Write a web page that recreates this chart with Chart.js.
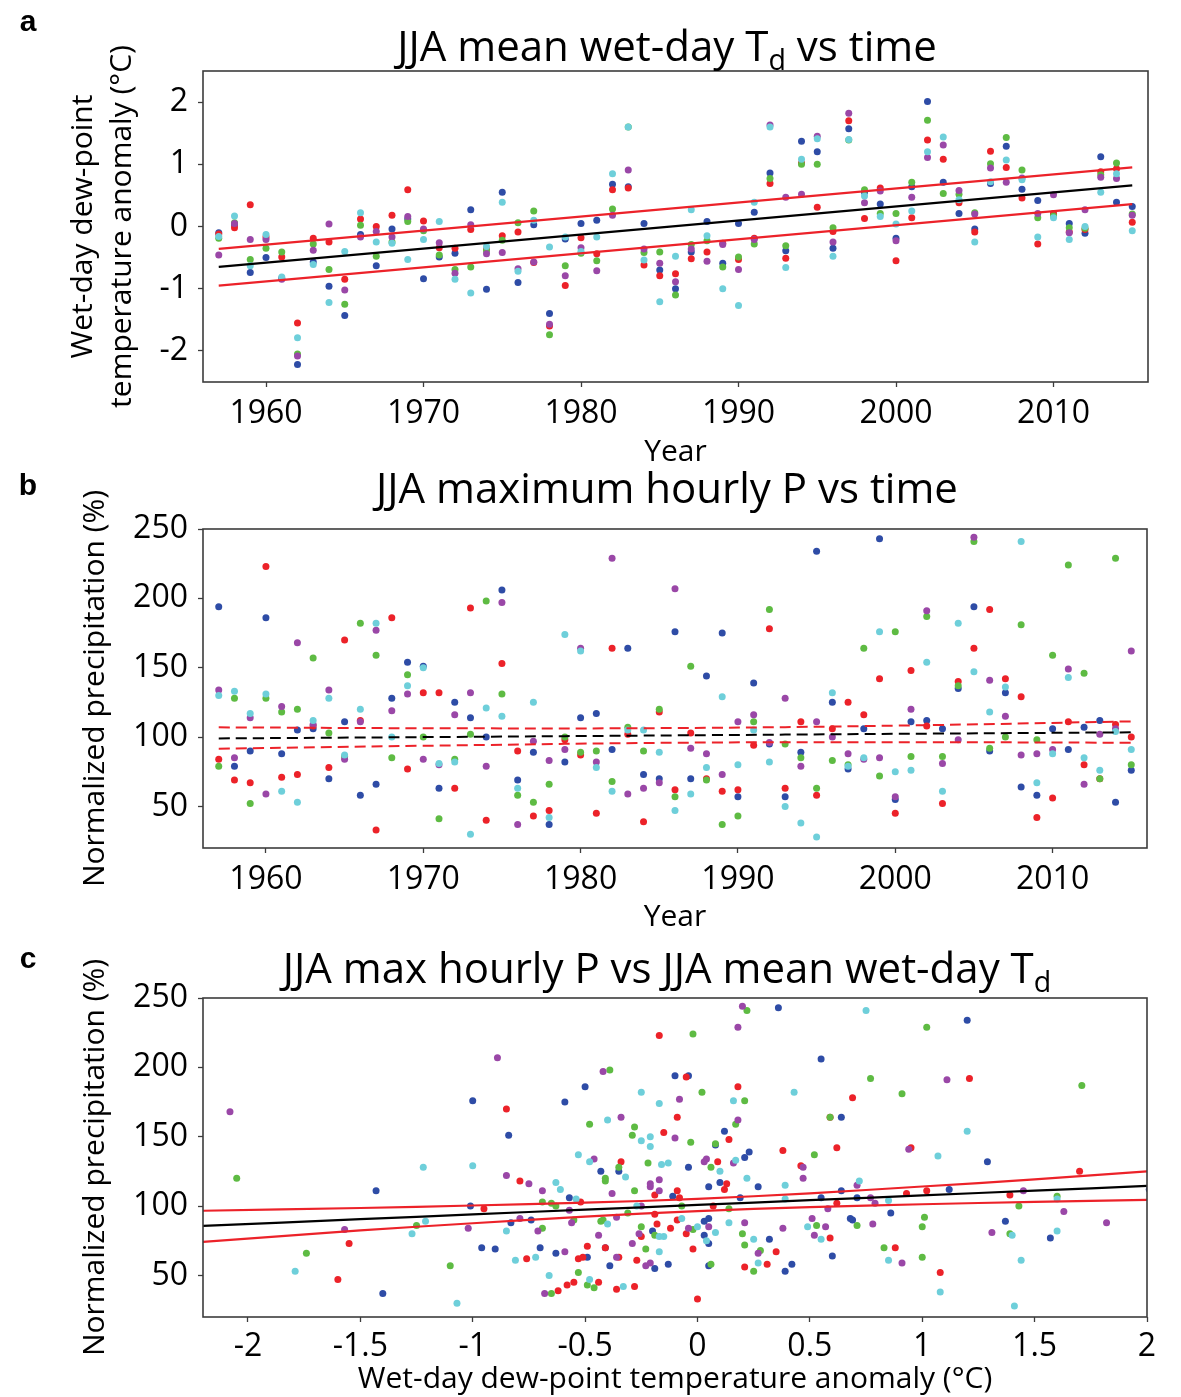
<!DOCTYPE html>
<html><head><meta charset="utf-8">
<script src="https://cdn.jsdelivr.net/npm/chart.js@4"></script>
<style>
body{margin:0;background:#fff;width:1181px;height:1397px;position:relative;overflow:hidden;font-family:'Open Sans',sans-serif;}
canvas{position:absolute;left:0;}
.ttl{position:absolute;left:667px;transform:translate(-50%,-50%);font-size:42px;white-space:nowrap;color:#000;line-height:1;}
.ttl sub{font-size:0.68em;vertical-align:-0.32em;line-height:0;}
.lt{position:absolute;font-family:'Liberation Sans',Arial,sans-serif;font-weight:bold;font-size:30px;transform:translate(-50%,-50%);line-height:1;}
</style></head>
<body>
<canvas id="ca" width="1181" height="480" style="top:0px"></canvas>
<canvas id="cb" width="1181" height="465" style="top:480px"></canvas>
<canvas id="cc" width="1181" height="452" style="top:945px"></canvas>
<div class="lt" style="left:28px;top:21px">a</div>
<div class="lt" style="left:28px;top:485px">b</div>
<div class="lt" style="left:28px;top:958px">c</div>
<div class="ttl" style="top:45px">JJA mean wet-day T<sub>d</sub> vs time</div>
<div class="ttl" style="top:487px">JJA maximum hourly P vs time</div>
<div class="ttl" style="top:967px">JJA max hourly P vs JJA mean wet-day T<sub>d</sub></div>
<script>
// ---------- data ----------
const years = [1957,1958,1959,1960,1961,1962,1963,1964,1965,1966,1967,1968,1969,1970,1971,1972,1973,1974,1975,1976,1977,1978,1979,1980,1981,1982,1983,1984,1985,1986,1987,1988,1989,1990,1991,1992,1993,1994,1995,1996,1997,1998,1999,2000,2001,2002,2003,2004,2005,2006,2007,2008,2009,2010,2011,2012,2013,2014,2015];

// wet-day dew-point anomaly (°C), panel a
const tdBlue   = [-0.10,0.03,-0.74,-0.50,-0.83,-2.22,-0.57,-0.96,-1.43,-0.13,-0.63,-0.04,0.12,-0.84,-0.49,-0.43,0.27,-1.01,0.55,-0.90,0.03,-1.40,-0.20,0.05,0.10,0.68,0.64,0.05,-0.70,-1.00,-0.41,0.08,-0.59,0.05,0.23,0.86,-0.39,1.37,1.20,-0.35,1.57,0.55,0.36,-0.19,0.64,2.01,0.71,0.21,-0.04,0.69,1.29,0.60,0.42,0.19,0.05,-0.11,1.12,0.39,0.32];
const tdRed    = [-0.12,-0.02,0.35,-0.17,-0.49,-1.55,-0.19,-0.25,-0.85,0.12,0.00,0.18,0.59,0.09,-0.34,-0.35,-0.05,-0.36,-0.15,-0.09,-0.58,-1.60,-0.95,-0.18,-0.44,0.59,0.62,-0.62,-0.79,-0.76,-0.52,-0.41,-0.27,-0.53,-0.19,0.69,-0.51,1.02,0.31,-0.08,1.70,0.13,0.62,-0.55,0.14,1.39,1.08,0.38,-0.09,1.21,0.95,0.46,-0.28,0.21,-0.09,-0.05,0.88,0.93,0.07];
const tdGreen  = [-0.19,0.06,-0.53,-0.35,-0.41,-2.05,-0.28,-0.69,-1.25,0.02,-0.48,-0.25,0.08,-0.07,-0.46,-0.69,-0.65,-0.39,-0.22,0.06,0.25,-1.74,-0.63,-0.43,-0.55,0.28,1.60,-0.42,-0.41,-1.10,-0.29,-0.23,-0.65,-0.49,-0.28,0.77,-0.31,1.00,1.00,-0.02,1.39,0.59,0.21,0.21,0.71,1.71,0.53,0.52,0.22,1.01,1.43,0.91,0.14,0.17,-0.02,-0.03,0.83,1.02,0.20];
const tdPurple = [-0.46,0.05,-0.21,-0.21,-0.85,-2.08,-0.38,0.04,-1.02,-0.17,-0.08,-0.17,0.16,-0.04,-0.26,-0.75,0.03,-0.44,-0.42,-0.68,-0.57,-1.57,-0.79,-0.34,-0.71,0.18,0.91,-0.36,-0.59,-0.89,-0.36,-0.56,-0.29,-0.69,-0.21,1.63,0.47,0.52,1.45,-0.25,1.82,0.38,0.57,-0.23,0.47,1.11,1.31,0.58,0.20,0.94,0.71,0.78,0.21,0.51,-0.10,0.27,0.79,0.77,0.18];
const tdCyan   = [-0.16,0.17,-0.63,-0.13,-0.81,-1.79,-0.61,-1.22,-0.40,0.22,-0.25,-0.27,-0.53,-0.21,0.08,-0.85,-1.07,-0.32,0.39,-0.72,0.10,-0.33,-0.17,-0.40,-0.17,0.85,1.60,-0.54,-1.21,-0.48,0.27,-0.15,-1.00,-1.27,0.39,1.60,-0.66,1.08,1.41,-0.48,1.40,0.49,0.16,0.04,0.25,1.20,1.44,0.43,-0.25,0.72,1.07,0.75,-0.17,0.14,-0.21,0.00,0.55,0.85,-0.07];

// normalized max hourly precipitation (%), panel b
const pBlue   = [194,79,90,186,88,105,106,70,111,58,66,128,154,151,63,125,114,100,206,69,89,37,82,114,117,91,164,73,70,176,70,144,175,57,139,95,57,89,234,125,77,106,243,55,111,112,106,135,194,90,132,64,58,106,91,107,112,53,76];
const pRed    = [84,69,67,223,71,73,108,78,170,112,33,186,77,132,132,63,193,40,153,90,43,47,98,87,45,164,102,39,118,62,103,70,61,62,94,178,63,111,58,106,125,116,142,45,148,108,52,140,164,192,142,129,42,56,111,80,70,109,100];
const pGreen  = [79,128,52,128,118,120,157,103,86,182,159,85,145,100,41,84,102,198,131,58,53,66,100,89,90,68,107,90,120,57,151,69,37,43,111,192,95,85,63,83,80,164,72,176,86,187,86,137,241,92,100,181,98,159,224,146,70,229,80];
const pPurple = [134,85,114,59,122,168,109,134,84,111,177,119,131,84,80,116,132,79,197,37,97,83,91,164,82,229,59,63,67,207,92,88,73,111,116,96,128,79,111,100,88,84,85,57,120,191,81,98,244,141,115,87,88,91,149,66,102,106,162];
const pCyan   = [130,133,117,131,61,53,112,128,87,120,182,100,137,150,81,82,30,121,115,63,125,42,174,162,78,61,105,105,89,47,59,78,129,80,105,82,50,38,28,132,79,85,176,75,76,154,61,182,147,118,136,241,67,88,143,85,76,104,91];

// trend lines and confidence bands
const trendYears = [1957, 2015];
const trendA = [-0.65, 0.66], upperA = [-0.36, 0.95], lowerA = [-0.95, 0.36];
const bandYearsB = [1957, 1972, 1986, 2000, 2015];
const trendB = [99.0, 100.1, 101.2, 102.3, 103.4];
const upperB = [107.0, 106.3, 106.5, 108.2, 111.3];
const lowerB = [91.6, 94.0, 95.9, 96.3, 95.9];
const bandXC = [-2.2, -1.5, -1.0, -0.5, 0, 0.5, 1.0, 1.5, 2.0];
const trendC = [85.7, 90.5, 94.0, 97.4, 100.8, 104.2, 107.7, 111.1, 114.5];
const upperC = [96.6, 98.6, 100.4, 102.4, 105.2, 109.2, 114.1, 119.2, 125.0];
const lowerC = [74.2, 82.4, 87.6, 92.4, 96.4, 99.2, 101.3, 103.0, 104.5];

// tick labels
const yearTicks = [1960, 1970, 1980, 1990, 2000, 2010];
const tdTicks = [-2, -1, 0, 1, 2];
const pTicks = [50, 100, 150, 200, 250];
const tdTicksC = [-2, -1.5, -1, -0.5, 0, 0.5, 1, 1.5, 2];

// ---------- styling ----------
const COL = {blue:'#2E4CA6', red:'#EC2229', green:'#5EBB43', purple:'#9A47A7', cyan:'#6ECFDA'};
const FONT = "'Open Sans', sans-serif";
const series = [
  ['cyan', tdCyan, pCyan], ['purple', tdPurple, pPurple], ['green', tdGreen, pGreen],
  ['red', tdRed, pRed], ['blue', tdBlue, pBlue]
];

const boxPlugin = {id:'box', afterDraw(chart){
  const {ctx, chartArea:a} = chart; ctx.save(); ctx.strokeStyle='#3c3c3c'; ctx.lineWidth=1.6;
  ctx.strokeRect(a.left, a.top, a.right-a.left, a.bottom-a.top); ctx.restore(); }};

function pts(xs, ys){ return xs.map((x,i)=>({x:x, y:ys[i]})); }
function lineDs(xs, ys, color, dash, w){
  return {type:'scatter', data:pts(xs, ys), showLine:true, borderColor:color, backgroundColor:color,
    borderWidth:w, borderDash:dash, pointRadius:0, tension:0.4, fill:false, clip:0};
}
function scatterDs(name, xs, ys){
  return {type:'scatter', data:pts(xs, ys), backgroundColor:COL[name], borderWidth:0, pointRadius:3.5,
    pointHoverRadius:3.5, showLine:false, clip:0};
}
function axis(opts){
  return {
    type:'linear', min:opts.min, max:opts.max, position:opts.pos,
    border:{display:false},
    grid:{drawOnChartArea:false, drawTicks:true, tickLength:5, tickColor:'#3c3c3c', tickWidth:1.3},
    ticks:{color:'#000', font:{family:FONT, size:32}, padding:opts.pos==='left'?10:(opts.tp||7), maxRotation:0,
      autoSkip:false, callback:(v)=>String(v)},
    afterBuildTicks:(sc)=>{ sc.ticks = opts.ticks.map(v=>({value:v})); },
    afterFit:(sc)=>{ if(opts.pos==='left') sc.width = opts.size; else sc.height = opts.size; },
    title:{display:true, text:opts.title, color:'#000', font:{family:FONT, size:30, lineHeight:opts.lh||1.2},
      padding:opts.tpad}
  };
}
function make(id, datasets, xa, ya, pad){
  new Chart(document.getElementById(id), {
    type:'scatter',
    data:{datasets:datasets},
    options:{responsive:false, animation:false, devicePixelRatio:1, events:[],
      layout:{padding:pad},
      plugins:{legend:{display:false}, tooltip:{enabled:false}},
      scales:{x:axis(xa), y:axis(ya)}},
    plugins:[boxPlugin]
  });
}

// panel a
const dsA = [
  lineDs(trendYears, trendA, '#000', [], 2.2),
  lineDs(trendYears, upperA, COL.red, [], 2.2),
  lineDs(trendYears, lowerA, COL.red, [], 2.2)
].concat(series.map(s=>scatterDs(s[0], years, s[1])));
make('ca', dsA,
  {min:1956, max:2016, pos:'bottom', ticks:yearTicks, size:98, title:'Year', tp:8, tpad:{top:0,bottom:10}},
  {min:-2.5, max:2.5, pos:'left', ticks:tdTicks, size:203, title:['Wet-day dew-point','temperature anomaly (°C)'], lh:1.3, tpad:{top:64,bottom:0}},
  {top:71, right:33, left:0, bottom:0});

// panel b
const dsB = [
  lineDs(bandYearsB, trendB, '#000', [11,6], 2),
  lineDs(bandYearsB, upperB, COL.red, [11,6], 2),
  lineDs(bandYearsB, lowerB, COL.red, [11,6], 2)
].concat(series.map(s=>scatterDs(s[0], years, s[2])));
make('cb', dsB,
  {min:1956, max:2016, pos:'bottom', ticks:yearTicks, size:97, title:'Year', tp:8, tpad:{top:0,bottom:10}},
  {min:20, max:250, pos:'left', ticks:pTicks, size:203, title:'Normalized precipitation (%)', tpad:{top:77,bottom:0}},
  {top:49, right:34, left:0, bottom:0});

// panel c
const dsC = [
  lineDs(bandXC, trendC, '#000', [], 2.2),
  lineDs(bandXC, upperC, COL.red, [], 2.2),
  lineDs(bandXC, lowerC, COL.red, [], 2.2)
].concat(series.map(s=>scatterDs(s[0], s[1], s[2])));
make('cc', dsC,
  {min:-2.2, max:2.0, pos:'bottom', ticks:tdTicksC, size:80, title:'Wet-day dew-point temperature anomaly (°C)', tp:6, tpad:{top:0,bottom:0}},
  {min:20, max:250, pos:'left', ticks:pTicks, size:203, title:'Normalized precipitation (%)', tpad:{top:77,bottom:0}},
  {top:53, right:34, left:0, bottom:0});
</script>
</body></html>
